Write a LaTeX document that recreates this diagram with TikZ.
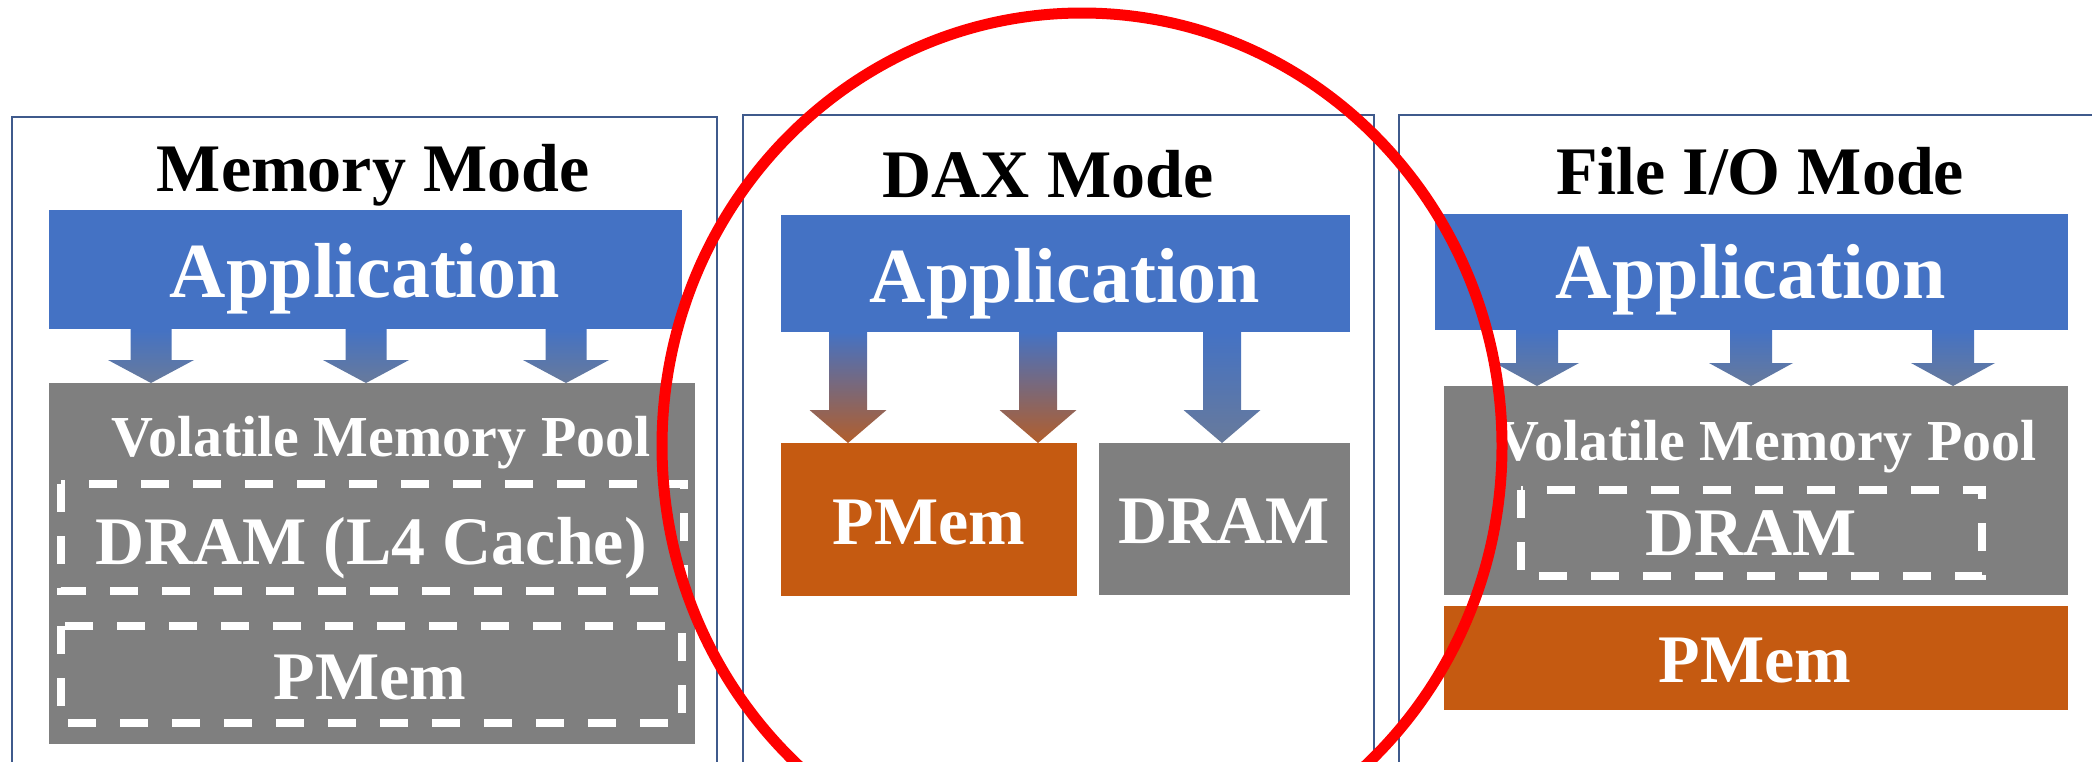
\documentclass[tikz,border=0pt]{standalone}
\usepackage{fontspec}
\setmainfont{Liberation Serif}
\usetikzlibrary{calc}
\definecolor{appblue}{HTML}{4472C4}
\definecolor{memgray}{HTML}{7F7F7F}
\definecolor{pmorange}{HTML}{C55A11}
\definecolor{framecol}{HTML}{3F5A8C}
\definecolor{arrgray}{HTML}{687A9B}
\definecolor{arrorange}{HTML}{B25E2C}
\newcommand\blockarr[7]{% #1 x centre, #2 from, #3 to, #4 shaft half, #5 head half, #6 head len, #7 tip colour
  \shade[top color=appblue, bottom color=#7]
    let \p1=(#2.south), \p2=(#3.north) in
    ({#1-#4},\y1) -- ({#1+#4},\y1) -- ({#1+#4},\y2+#6pt) -- ({#1+#5},\y2+#6pt)
    -- (#1,\y2) -- ({#1-#5},\y2+#6pt) -- ({#1-#4},\y2+#6pt) -- cycle;
}
\tikzset{
  box/.style={inner sep=0pt, outer sep=0pt, draw=none},
  appbox/.style={box, fill=appblue},
  graybox/.style={box, fill=memgray},
  orbox/.style={box, fill=pmorange},
  frame/.style={draw=framecol, line width=2.5pt},
  dashbox/.style={draw=white, line width=8pt, dash pattern=on 28pt off 24pt},
  titletxt/.style={anchor=base, inner sep=0pt, font=\fontsize{68}{80}\selectfont\bfseries},
  apptxt/.style={anchor=base, inner sep=0pt, text=white, font=\fontsize{78}{90}\selectfont\bfseries},
  pooltxt/.style={anchor=base, inner sep=0pt, text=white, font=\fontsize{58}{68}\selectfont\bfseries},
  memtxt/.style={anchor=base, inner sep=0pt, text=white, font=\fontsize{68}{80}\selectfont\bfseries},
}
\begin{document}
\begin{tikzpicture}[x=1pt, y=-1pt]
\useasboundingbox (0,0) rectangle (2092,761);
\clip (0,0) rectangle (2092,761);
\fill[white] (0,0) rectangle (2092,761);

% frames
\draw[frame] (12,780) -- (12,117) -- (717,117) -- (717,780);
\draw[frame] (743,780) -- (743,115) -- (1374,115) -- (1374,780);
\draw[frame] (1399,780) -- (1399,115) -- (2110,115);

% ---------- Memory Mode ----------
\node[titletxt] (mtitle) at (373,191) {Memory Mode};
\node[appbox, minimum width=633pt, minimum height=119pt] (mapp) at (365.5,269.5) {};
\node[apptxt] (mapptxt) at (365,297) {Application};
\node[graybox, minimum width=646pt, minimum height=361pt] (mpool) at (372,563.5) {};
\node[pooltxt] (mpooltxt) at (381,456) {Volatile Memory Pool};
\draw[dashbox] (61,484) rectangle (684,591);
\node[memtxt] (mdram) at (371,564) {DRAM (L4 Cache)};
\draw[dashbox] (61,626) rectangle (682,723);
\node[memtxt] (mpmem) at (370,699) {PMem};
\blockarr{151}{mapp}{mpool}{20.5}{43}{23}{arrgray}
\blockarr{366}{mapp}{mpool}{20.5}{43}{23}{arrgray}
\blockarr{566}{mapp}{mpool}{20.5}{43}{23}{arrgray}

% ---------- DAX Mode ----------
\node[titletxt] (dtitle) at (1048,197) {DAX Mode};
\node[appbox, minimum width=569pt, minimum height=117pt] (dapp) at (1065.5,273.5) {};
\node[apptxt] (dapptxt) at (1065,302) {Application};
\node[orbox, minimum width=296pt, minimum height=153pt] (dpmem) at (929,519.5) {};
\node[memtxt] (dpmemtxt) at (929,544) {PMem};
\node[graybox, minimum width=251pt, minimum height=152pt] (ddram) at (1224.5,519) {};
\node[memtxt] (ddramtxt) at (1224,543) {DRAM};
\blockarr{848}{dapp}{dpmem}{19}{38.5}{33}{arrorange}
\blockarr{1038}{dapp}{dpmem}{19}{38.5}{33}{arrorange}
\blockarr{1222}{dapp}{ddram}{19}{38.5}{33}{arrgray}

% ---------- File I/O Mode ----------
\node[titletxt] (ftitle) at (1760,194) {File I/O Mode};
\node[appbox, minimum width=633pt, minimum height=116pt] (fapp) at (1751.5,272) {};
\node[apptxt] (fapptxt) at (1751,298) {Application};
\node[graybox, minimum width=624pt, minimum height=209pt] (fpool) at (1756,490.5) {};
\node[pooltxt] (fpooltxt) at (1767,460) {Volatile Memory Pool};
\draw[dashbox] (1521,490) rectangle (1982,576);
\node[memtxt] (fdram) at (1751,555) {DRAM};
\node[orbox, minimum width=624pt, minimum height=104pt] (fpmem) at (1756,658) {};
\node[memtxt] (fpmemtxt) at (1755,682) {PMem};
\blockarr{1537}{fapp}{fpool}{21}{42}{23}{arrgray}
\blockarr{1751}{fapp}{fpool}{21}{42}{23}{arrgray}
\blockarr{1953}{fapp}{fpool}{21}{42}{23}{arrgray}

% red highlight ellipse
\draw[red, line width=11pt] (1082,446) ellipse [x radius=420, y radius=433];
\end{tikzpicture}
\end{document}
